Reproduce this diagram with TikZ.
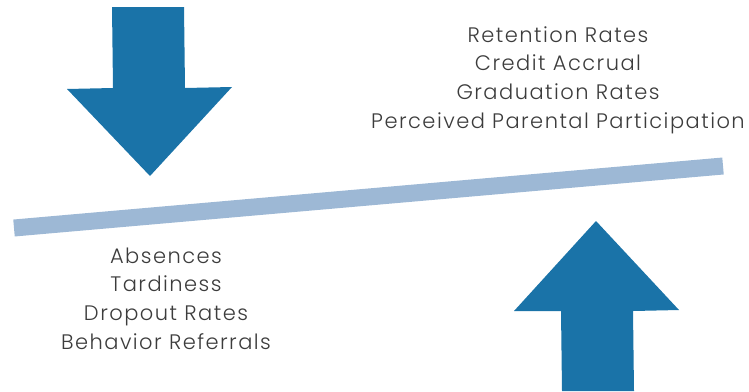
\documentclass[tikz,border=0pt]{standalone}
\usepackage{fontspec}
\setmainfont{Poppins Light}[LetterSpace=7]
\usetikzlibrary{positioning}
\definecolor{arrowblue}{HTML}{1A73A8}
\definecolor{beamblue}{HTML}{9DB8D5}
\definecolor{labelgray}{HTML}{3C3C3C}
\tikzstyle{label} = [text=labelgray, font=\fontsize{21}{24}\selectfont, text height=14pt, text depth=4pt, inner sep=0pt]
\tikzstyle{bigarrow} = [fill=arrowblue]
\tikzstyle{beam} = [draw=beamblue, line width=17pt]

\begin{document}
\begin{tikzpicture}[x=1pt,y=-1pt,node distance=28.7pt]
\useasboundingbox (0,0) rectangle (749,391);

% lever
\coordinate (bl) at (14,228);
\coordinate (br) at (723,166);
\draw [beam] (bl) -- (br);

% arrows
\fill [bigarrow] (112,7) -- (184,7) -- (185,88) -- (232,87) -- (150,176) -- (67,89) -- (113,88) -- cycle;
\fill [bigarrow] (596,221) -- (679,310) -- (633,311) -- (634,391) -- (562,391) -- (561,311) -- (514,311) -- cycle;

% outcomes that go up
\node (ret) [label] at (558,37) {Retention Rates};
\node (cred) [label, below of=ret] {Credit Accrual};
\node (grad) [label, below of=cred] {Graduation Rates};
\node (par) [label, below of=grad] {Perceived Parental Participation};

% outcomes that go down
\node (abs) [label] at (166,258) {Absences};
\node (tard) [label, below of=abs] {Tardiness};
\node (drop) [label, below of=tard] {Dropout Rates};
\node (beh) [label, below of=drop] {Behavior Referrals};

\end{tikzpicture}
\end{document}
